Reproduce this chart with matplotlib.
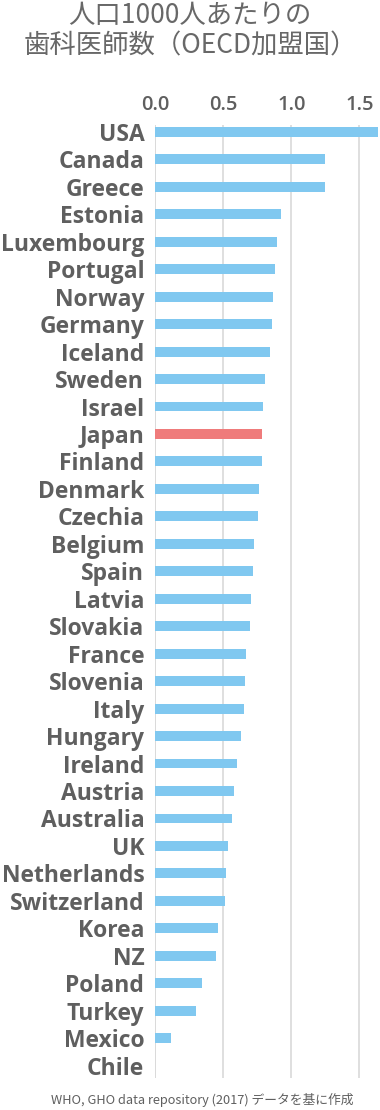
import numpy as np
import matplotlib.pyplot as plt

plt.rcParams['font.family'] = ['Noto Sans CJK JP', 'DejaVu Sans']

countries = ["USA", "Canada", "Greece", "Estonia", "Luxembourg", "Portugal", "Norway",
             "Germany", "Iceland", "Sweden", "Israel", "Japan", "Finland", "Denmark",
             "Czechia", "Belgium", "Spain", "Latvia", "Slovakia", "France", "Slovenia",
             "Italy", "Hungary", "Ireland", "Austria", "Australia", "UK", "Netherlands",
             "Switzerland", "Korea", "NZ", "Poland", "Turkey", "Mexico", "Chile"]
dentists = [1.64, 1.25, 1.246, 0.92, 0.891, 0.876, 0.864,
            0.857, 0.842, 0.805, 0.794, 0.786, 0.781, 0.761,
            0.751, 0.722, 0.719, 0.702, 0.697, 0.663, 0.661,
            0.653, 0.626, 0.601, 0.575, 0.560, 0.533, 0.518,
            0.513, 0.457, 0.443, 0.340, 0.298, 0.116, 0.0]
xticks = [0.0, 0.5, 1.0, 1.5]

BLUE = "#80c8f0"
RED = "#ef7b7b"
GREY = "#5f5f5f"
LATIN = ['Open Sans', 'Noto Sans CJK JP', 'DejaVu Sans']

fig = plt.figure(figsize=(3.8, 11.1), dpi=100)
ax = fig.add_axes([0.409, 0.0288, 0.587, 0.8586])

y = np.arange(len(countries))
colors = [RED if c == "Japan" else BLUE for c in countries]
ax.barh(y, dentists, height=0.36, color=colors, zorder=3)

ax.set_xlim(0, 1.64)
ax.set_ylim(len(countries) - 1 + 0.45, -0.25)
ax.set_xticks(xticks)
ax.set_xticklabels([f"{v:.1f}" for v in xticks], family=LATIN, fontweight='semibold')
ax.xaxis.tick_top()
ax.tick_params(axis='x', length=0, pad=7, labelsize=14.5, labelcolor=GREY)
ax.set_yticks(y)
ax.set_yticklabels(countries, fontsize=16.5, fontweight='bold', color=GREY, family=LATIN)
ax.tick_params(axis='y', length=0, pad=8)
ax.grid(axis='x', color='#d9d9d9', lw=1.2, zorder=0)
for s in ax.spines.values():
    s.set_visible(False)
ax.axvline(0, color='#d9d9d9', lw=1.2, zorder=1)

fig.text(0.5, 0.9856, "人口1000人あたりの", ha='center', va='center', fontsize=19, color='#686868')
fig.text(0.5, 0.9586, "歯科医師数（OECD加盟国）", ha='center', va='center', fontsize=19, color='#686868')
fig.text(0.532, 0.009, "WHO, GHO data repository (2017) データを基に作成", ha='center', va='center',
         fontsize=9.2, color=GREY)

fig.savefig("out.png", dpi=100)
